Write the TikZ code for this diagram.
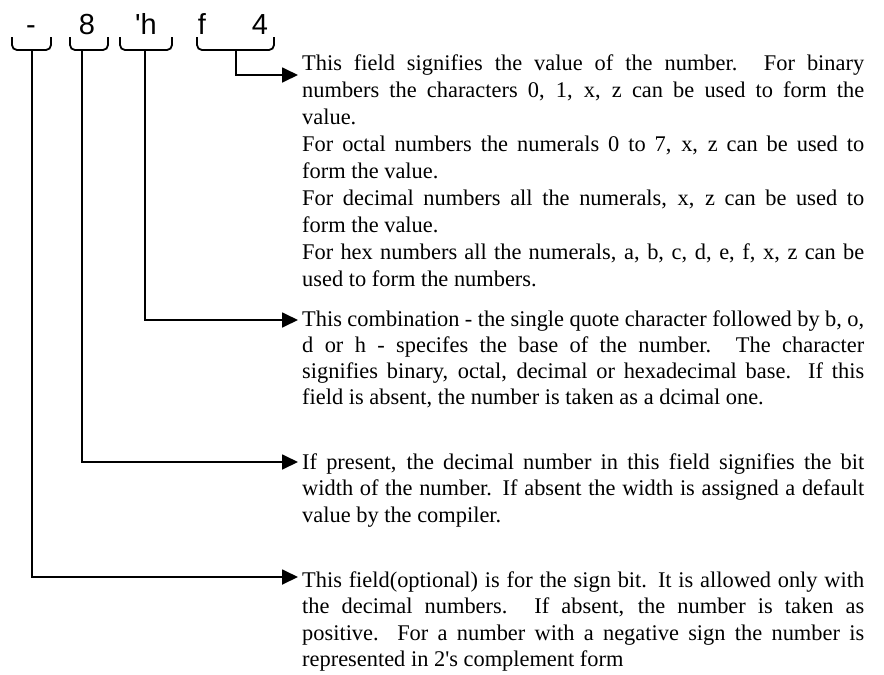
\documentclass[tikz,border=0pt]{standalone}
\usepackage{fontspec}
\setmainfont{Liberation Serif}
\newfontfamily\charfont{Liberation Sans}
\usetikzlibrary{arrows.meta}
% one justified line of a note
\newcommand{\jl}[1]{\makebox[562pt][s]{#1}}
\tikzset{
  digit/.style={font=\charfont\fontsize{29}{34}\selectfont, inner sep=0pt, anchor=base},
  note/.style={font=\fontsize{22.4}{26.8}\selectfont, inner sep=0pt, anchor=base west},
  brace/.style={line width=1.8pt, rounded corners=5pt},
  link/.style={line width=1.8pt, -{Triangle[length=16pt,width=15pt]}},
}
\begin{document}
\begin{tikzpicture}[x=1pt,y=-1pt]
\useasboundingbox (0,0) rectangle (884,675);
% the number, field by field
\node[digit] (sgn) at (31,34.3) {-};
\node[digit] (wid) at (87,34.3) {8};
\node[digit] (bas) at (146,34.3) {\textquotesingle h};
\node[digit] (valf) at (202,34.3) {f};
\node[digit] (val4) at (260,34.3) {4};
% brackets under the fields
\foreach \n/\xa/\xb/\xm in {sgnB/12/51/32, widB/70/108/82, basB/120/172/145, valB/197/274/236} {
  \draw[brace] (\xa,37) -- (\xa,50) -- (\xb,50) -- (\xb,37);
  \coordinate (\n) at (\xm,50);
}
% value field
\foreach \k/\txt in {0/{\jl{This field signifies the value of the number.  For binary}},
  1/{\jl{numbers the characters 0, 1, x, z can be used to form the}},
  2/{value.},
  3/{\jl{For octal numbers the numerals 0 to 7, x, z can be used to}},
  4/{form the value.},
  5/{\jl{For decimal numbers all the numerals, x, z can be used to}},
  6/{form the value.},
  7/{\jl{For hex numbers all the numerals, a, b, c, d, e, f, x, z can be}},
  8/{used to form the numbers.}} {
  \node[note] (valN\k) at (302,{70+27.1*\k}) {\txt};
}
% base field
\foreach \k/\txt in {0/{\jl{This combination - the single quote character followed by b, o,}},
  1/{\jl{d or h - specifes the base of the number.  The character}},
  2/{\jl{signifies binary, octal, decimal or hexadecimal base.  If this}},
  3/{field is absent, the number is taken as a dcimal one.}} {
  \node[note] (basN\k) at (302,{326+26*\k}) {\txt};
}
% width field
\foreach \k/\txt in {0/{\jl{If present, the decimal number in this field signifies the bit}},
  1/{\jl{width of the number.  If absent the width is assigned a default}},
  2/{value by the compiler.}} {
  \node[note] (widN\k) at (302,{469+26.5*\k}) {\txt};
}
% sign field
\foreach \k/\txt in {0/{\jl{This field(optional) is for the sign bit.  It is allowed only with}},
  1/{\jl{the decimal numbers.  If absent, the number is taken as}},
  2/{\jl{positive.  For a number with a negative sign the number is}},
  3/{represented in 2\textquotesingle s complement form}} {
  \node[note] (sgnN\k) at (302,{587+26.6*\k}) {\txt};
}
% connectors
\coordinate (valT) at (298,75);
\coordinate (basT) at (298,320);
\coordinate (widT) at (298,462);
\coordinate (sgnT) at (298,577);
\draw[link] (valB) |- (valT);
\draw[link] (basB) |- (basT);
\draw[link] (widB) |- (widT);
\draw[link] (sgnB) |- (sgnT);
\end{tikzpicture}
\end{document}
